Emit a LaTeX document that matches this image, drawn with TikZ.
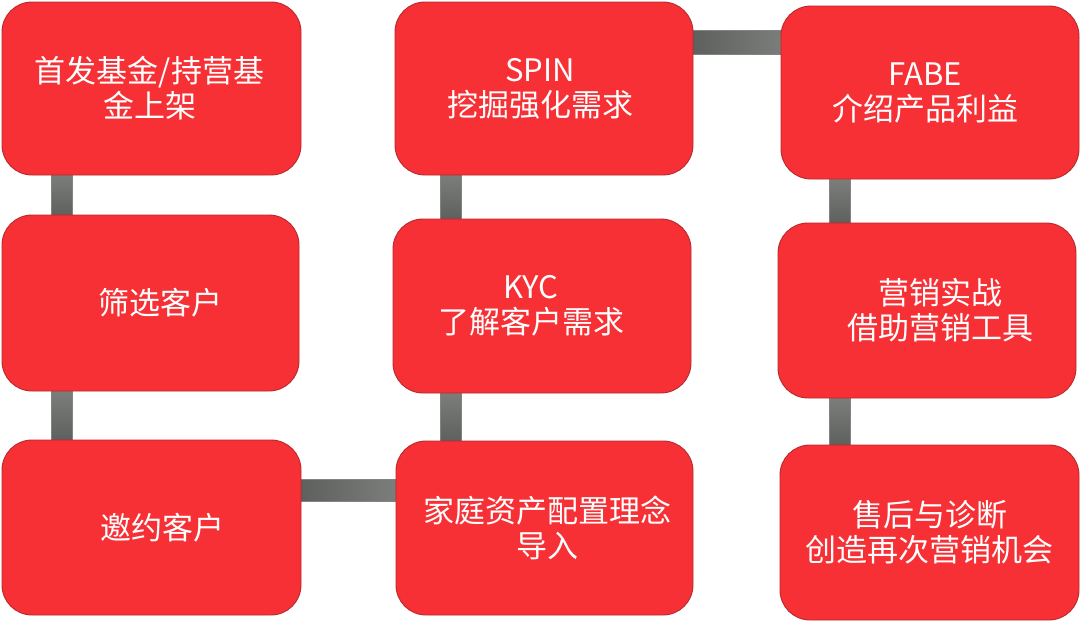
\documentclass[tikz,border=0pt]{standalone}
\usepackage{fontspec}
\setmainfont{Noto Sans CJK SC}
\usetikzlibrary{calc,backgrounds}
\definecolor{boxred}{RGB}{246,48,53}
\definecolor{boxedge}{RGB}{185,40,45}
\definecolor{bardark}{RGB}{94,96,94}
\definecolor{barlight}{RGB}{124,126,124}
\definecolor{baredge}{RGB}{130,132,130}
\tikzset{
  stepbox/.style={rectangle, rounded corners=30pt, fill=boxred, draw=boxedge, line width=0.9pt,
    text=white, align=center, font=\fontsize{31}{35}\selectfont, inner sep=0pt},
  barv/.style={top color=barlight, bottom color=bardark, draw=baredge, line width=0.6pt},
  barh/.style={left color=bardark, right color=barlight, draw=baredge, line width=0.6pt},
}
\begin{document}
\begin{tikzpicture}[x=1pt,y=-1pt]
\useasboundingbox (0,0) rectangle (1080,622);
\node[stepbox, minimum width=299pt, minimum height=173pt] (A) at (151.5,88.5) {首发基金/持营基\hspace*{4pt}\\金上架\hspace*{4pt}};
\node[stepbox, minimum width=297pt, minimum height=176pt] (B) at (150.5,303) {\hspace*{20pt}筛选客户};
\node[stepbox, minimum width=299pt, minimum height=175pt] (C) at (151.5,527.5) {\hspace*{22pt}邀约客户};
\node[stepbox, minimum width=298pt, minimum height=173pt] (S) at (544,88.5) {SPIN\hspace*{8pt}\\挖掘强化需求\hspace*{8pt}};
\node[stepbox, minimum width=298pt, minimum height=174pt] (K) at (542,306) {KYC\hspace*{22pt}\\了解客户需求\hspace*{22pt}};
\node[stepbox, minimum width=297pt, minimum height=174pt] (J) at (544.5,528) {\hspace*{6pt}家庭资产配置理念\\\hspace*{6pt}导入};
\node[stepbox, minimum width=298pt, minimum height=173pt] (F) at (930,92.5) {FABE\hspace*{10pt}\\介绍产品利益\hspace*{10pt}};
\node[stepbox, minimum width=298pt, minimum height=175pt] (Y) at (927,310.5) {\hspace*{26pt}营销实战\\\hspace*{26pt}借助营销工具};
\node[stepbox, minimum width=299pt, minimum height=175pt] (H) at (929.5,532.5) {售后与诊断\\创造再次营销机会};
\begin{scope}[on background layer]
\shade[barv] ($(A.south west)+(50,-1)$) rectangle ($(B.north west)+(71,1)$);
\shade[barv] ($(B.south west)+(50,-1)$) rectangle ($(C.north west)+(71,1)$);
\shade[barh] ($(C.north east)+(-1,40)$) rectangle ($(J.north west)+(1,61)$);
\shade[barv] ($(K.south west)+(48,-1)$) rectangle ($(J.north west)+(66,1)$);
\shade[barv] ($(S.south west)+(46,-1)$) rectangle ($(K.north west)+(69,1)$);
\shade[barh] ($(S.north east)+(-1,29)$) rectangle ($(F.north west)+(4,49)$);
\shade[barv] ($(F.south west)+(49,-1)$) rectangle ($(Y.north west)+(73,1)$);
\shade[barv] ($(Y.south west)+(52,-1)$) rectangle ($(H.north west)+(71,1)$);
\end{scope}
\end{tikzpicture}
\end{document}
